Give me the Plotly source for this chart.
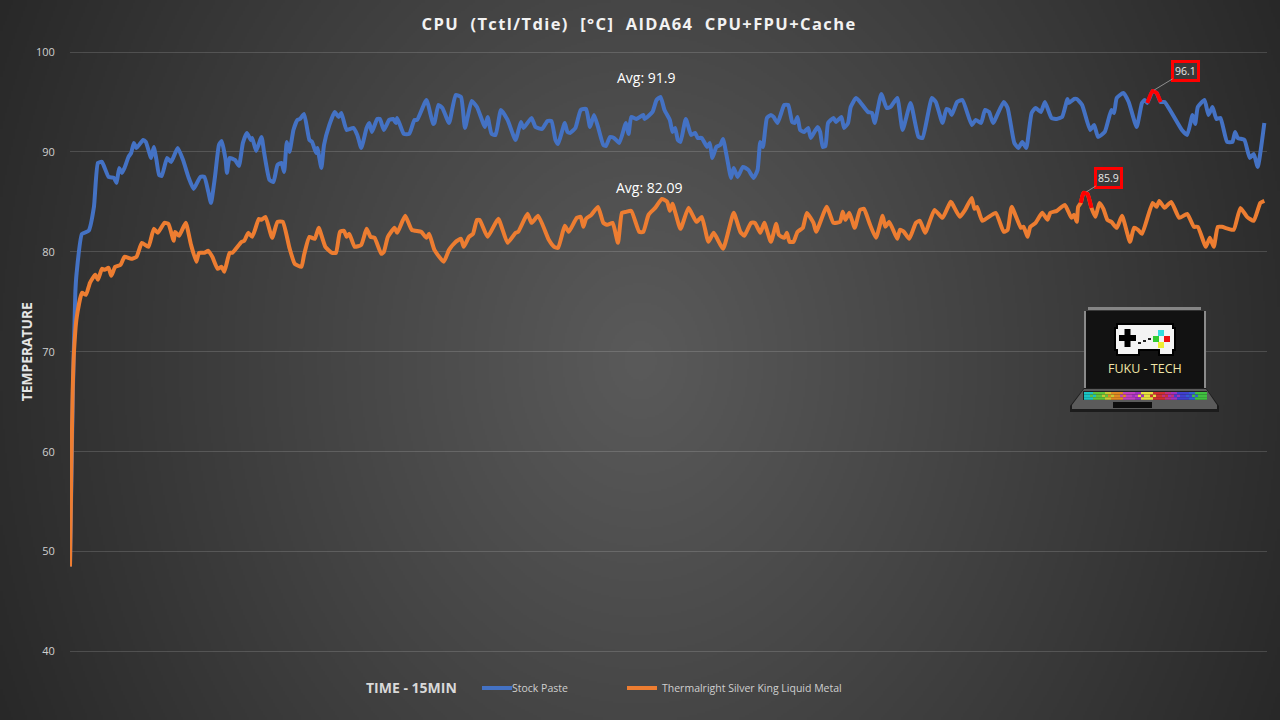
import base64, struct, zlib
import numpy as np
import plotly.graph_objects as go

# time in seconds (15 min run), temperature in deg C
stock_time = [0,2,4,5,9,14,18,21,24,29,33,35,37,39,41,44,46,48,50,55,57,61,63,65,67,69,73,76,81,85,89,93,98,101,104,106,109,112,114,117,118,120,124,127,130,133,136,137,140,144,146,150,153,156,159,161,163,165,168,171,173,176,180,182,185,186,189,191,195,199,202,204,208,213,216,219,223,225,227,231,233,236,240,243,245,246,251,255,259,261,268,273,274,277,280,285,290,
294,297,302,306,312,314,317,320,324,329,335,339,341,347,350,355,359,362,365,367,372,374,376,380,384,388,391,394,397,401,403,406,409,413,418,420,422,426,431,432,438,441,444,447,451,453,455,457,459,463,467,470,472,475,479,481,483,486,489,491,494,497,499,502,506,510,514,517,519,521,524,527,529,532,535,537,540,543,545,547,549,552,555,557,562,564,566,568,570,574,576,580,582,585,587,591,594,
600,603,605,610,614,617,622,626,632,638,641,648,651,656,659,661,663,667,671,678,681,685,688,691,694,702,705,710,713,716,719,723,726,730,733,738,742,746,750,751,755,757,761,767,770,773,778,783,785,787,792,796,802,806,808,810,814,817,820,823,836,840,844,846,848,853,856,859,862,865,870,874,876,878,883,887,890,893,898]
stock_temp = [48.5,65,75.9,77.9,81.8,82.1,84.5,88.9,89.0,87.5,87.4,86.9,88.4,87.9,88.4,89.5,89.9,90.9,90.4,91.2,91.0,89.4,90.5,89.2,87.7,87.6,89.4,89.0,90.4,89.2,87.5,86.3,87.5,87.5,86.0,84.9,87.5,90.7,91.1,89.2,87.9,89.4,89.2,88.6,90.9,91.9,91.2,91.4,90.1,91.5,89.9,87.2,87.0,88.7,88.9,88.0,91.0,90.0,92.2,93.2,93.3,93.8,91.2,91.0,89.9,90.4,88.4,90.7,92.7,94.0,93.5,93.9,92.2,92.4,91.7,90.4,92.4,92.9,92.0,93.3,93.3,92.2,93.2,93.3,92.9,93.4,91.8,91.8,93.2,93.2,95.2,92.8,92.9,94.7,94.4,92.9,95.7,
95.5,92.4,95.1,94.5,92.5,93.5,91.8,91.7,94.2,93.2,91.2,93.0,92.4,93.4,92.5,92.3,93.1,93.1,91.2,90.8,92.9,92.0,91.9,92.4,94.2,94.3,92.5,93.7,92.5,90.7,90.6,91.5,91.4,90.9,92.9,91.8,93.5,93.3,93.7,93.3,94.0,95.2,95.5,94.2,93.2,92.0,92.4,91.2,91.0,93.3,91.7,91.9,91.4,91.4,90.5,90.9,89.4,90.5,90.7,91.3,89.4,87.4,88.4,87.5,88.5,88.2,87.4,88.2,91.0,90.5,93.4,93.7,93.5,92.9,94.0,94.7,94.7,93.0,92.9,93.5,92.2,92.0,92.4,91.4,92.5,92.0,90.5,90.6,92.9,93.4,93.0,93.5,92.4,92.9,94.5,95.4,95.0,
94.0,93.9,92.9,95.8,94.4,94.5,95.4,92.2,94.9,91.5,91.4,95.4,95.0,92.9,94.3,94.2,93.7,95.0,95.2,92.7,93.2,92.9,94.2,94.0,92.9,95.0,94.4,90.9,90.4,91.0,90.4,93.9,94.4,94.0,95.0,93.4,93.3,93.5,95.3,94.9,95.3,95.3,94.7,92.2,92.7,91.5,92.0,94.2,93.9,95.4,95.9,95.0,92.5,94.9,95.2,94.9,96.1,95.9,95.0,95.0,92.2,91.7,93.7,92.8,94.5,95.2,93.7,94.5,93.3,93.4,91.0,91.0,92.0,91.4,91.2,89.4,89.8,88.5,92.9]

lm_time = [0,1,2,3,5,9,12,15,19,21,24,26,29,31,34,38,41,46,50,54,59,63,66,71,74,78,79,82,87,91,95,97,101,104,107,111,114,116,120,122,129,131,134,137,142,144,147,152,156,160,165,169,174,176,180,184,187,192,197,200,203,206,208,210,214,219,223,226,229,234,236,239,244,246,252,257,264,268,270,274,281,285,290,
294,296,300,303,306,308,314,322,329,335,337,344,347,352,360,364,367,372,375,381,384,386,388,392,397,401,404,408,412,415,418,422,428,431,435,440,445,449,451,453,459,465,471,475,480,484,491,499,504,507,512,515,519,522,527,531,533,537,539,541,544,547,551,554,559,561,569,574,579,581,583,586,590,594,
597,601,606,611,613,616,622,624,627,631,636,639,643,650,656,662,663,669,673,678,680,682,686,696,702,705,708,715,717,720,722,726,731,735,737,742,748,753,755,757,758,760,762,765,768,771,774,777,780,783,787,791,797,800,803,806,814,817,819,823,828,834,840,845,848,854,857,860,863,866,871,875,880,885,890,895,898]
lm_temp = [48.5,58,66,70,73.4,75.9,75.7,76.9,77.7,77.2,78.3,78.2,78.4,77.6,78.5,78.7,79.5,79.3,79.5,80.9,80.5,82.3,81.9,82.9,82.8,81.1,82.0,81.6,82.9,80.7,79.0,79.9,79.9,80.1,79.5,78.3,78.5,78.0,79.9,79.9,81.0,81.1,81.9,81.5,83.3,83.2,83.5,81.4,83.0,83.0,80.4,78.8,78.5,79.7,81.5,81.3,82.4,80.5,79.9,79.9,82.0,82.1,81.5,81.8,80.5,80.7,82.3,81.5,81.4,79.8,80.0,81.5,82.4,81.9,83.6,82.2,82.0,81.4,81.8,80.2,79.0,80.2,81.0,
81.3,80.5,81.5,81.8,83.2,83.2,81.5,83.3,80.9,81.9,82.0,83.8,82.9,83.6,81.2,80.5,80.4,82.6,82.0,83.4,83.5,82.5,83.3,83.7,84.5,82.9,82.7,82.9,80.9,83.9,84.0,84.1,82.0,82.0,83.7,84.4,85.3,85.0,84.1,84.8,82.3,84.4,83.0,83.5,81.0,81.9,80.3,83.9,82.0,81.6,82.9,82.9,81.9,82.9,81.0,82.8,81.7,81.4,81.9,81.0,81.0,82.0,82.4,83.9,82.9,82.0,84.5,82.9,83.0,84.0,83.2,83.9,82.4,84.2,
84.3,82.9,81.4,83.6,82.5,83.0,81.3,82.2,82.0,81.3,82.9,83.1,81.9,84.2,83.4,85.0,84.9,83.5,84.2,85.4,84.3,84.5,83.1,83.9,82.0,82.2,84.5,82.4,82.5,81.5,82.5,82.9,83.9,83.2,83.9,84.1,84.7,83.4,83.7,83.0,84.5,84.9,85.9,85.8,84.4,83.5,84.9,84.3,83.2,83.0,82.4,83.6,81.0,82.4,82.2,81.8,84.9,84.5,85.1,84.4,85.0,83.4,83.8,82.5,82.5,80.5,81.4,80.5,82.5,82.5,82.3,82.2,84.4,83.5,83.1,84.9,85.1]

stock_peak_time = [810,814,817,820]
stock_peak_temp = [94.9,96.1,95.9,95.0]
lm_peak_time = [760,762,765,768]
lm_peak_temp = [84.9,85.9,85.8,84.4]

y_ticks = [40,50,60,70,80,90,100]
series_names = ["Stock Paste","Thermalright Silver King Liquid Metal"]
W, H = 1280, 720
BLUE, ORANGE, RED = "#4472C4", "#ED7D31", "#FF0000"
FONT = "Open Sans"

# radial page background
def background_uri():
    yy, xx = np.mgrid[0:H//2, 0:W//2]
    t = np.sqrt(((xx*2-W/2+.5)/(W/2))**2 + (0.46*(yy*2-H/2+.5)/(H/2))**2)
    v = np.clip(0x5a - (0x5a-0x2d)*t**1.05, 0x27, 255).astype(np.uint8)
    raw = b"".join(b"\0" + np.repeat(r, 3).tobytes() for r in v)
    def chunk(k, d):
        return struct.pack(">I", len(d)) + k + d + struct.pack(">I", zlib.crc32(k+d))
    png = b"\x89PNG\r\n\x1a\n" + chunk(b"IHDR", struct.pack(">IIBBBBB", W//2, H//2, 8, 2, 0, 0, 0)) + chunk(b"IDAT", zlib.compress(raw)) + chunk(b"IEND", b"")
    return "data:image/png;base64," + base64.b64encode(png).decode()

shapes = []
def rect(x0, y0, x1, y1, c):
    shapes.append(dict(type="rect", xref="paper", yref="paper", x0=x0/W, x1=x1/W, y0=1-y0/H, y1=1-y1/H,
                       fillcolor=c, line=dict(width=0), layer="above"))
def poly(pts, c):
    p = "M" + " L".join(f"{x/W:.5f},{1-y/H:.5f}" for x, y in pts) + " Z"
    shapes.append(dict(type="path", xref="paper", yref="paper", path=p, fillcolor=c, line=dict(width=0), layer="above"))

# laptop badge
rect(1088, 307, 1201, 310, "#858585")
rect(1084, 311, 1206, 388, "#8a8a8a")
rect(1086, 311, 1204, 388, "#121212")
poly([(1084,388),(1206,388),(1219,406),(1219,412),(1070,412),(1070,406)], "#1c1c1c")
poly([(1084,389),(1206,389),(1217,405),(1217,409),(1072,409),(1072,405)], "#5b5b5b")
rect(1083, 391, 1207, 400, "#222222")
keys = ["#19c4c4","#19c4c4","#5fc43a","#5fc43a","#c8c832","#e08a22","#e08a22","#c040c0","#c040c0","#a030c0","#e8e040","#e8e040","#d03030","#d03030","#c03080","#a030c0","#4040d0","#4040d0","#3060d0","#40c040","#40c040"]
for col in range(41):
    for r in range(3):
        c = keys[col//2] if (col + r) % 2 == 0 else keys[min(col//2+1, 20)]
        rect(1084+col*3, 392+r*2.6, 1087+col*3, 394.6+r*2.6, c)
rect(1113, 402, 1152, 408, "#0e0e0e")
# game pad
rect(1116, 323, 1174, 347, "#000000")
rect(1114, 327, 1176, 351, "#000000")
rect(1116, 347, 1140, 356, "#000000")
rect(1158, 347, 1174, 356, "#000000")
rect(1118, 325, 1172, 345, "#f4f4f4")
rect(1116, 329, 1174, 349, "#f4f4f4")
rect(1118, 345, 1138, 354, "#f4f4f4")
rect(1160, 345, 1172, 354, "#f4f4f4")
rect(1119, 335, 1136, 341, "#000000")
rect(1124.5, 329, 1130.5, 347, "#000000")
rect(1158, 330, 1164, 336, "#33dddd")
rect(1153, 336, 1159, 342, "#33cc33")
rect(1164, 336, 1170, 342, "#ee1111")
rect(1158, 342, 1164, 348, "#eeee33")
rect(1138, 342, 1141, 344, "#222222")
rect(1143, 340, 1146, 342, "#222222")
rect(1148, 338, 1151, 340, "#222222")

line_w = 4
def series(x, y, color, name=None, legend=None, width=line_w):
    return go.Scatter(x=x, y=y, mode="lines", name=name, showlegend=legend is not None,
                      legend=legend or "legend",
                      line=dict(color=color, width=width, shape="spline", smoothing=0.45),
                      hoverinfo="skip", cliponaxis=False)

fig = go.Figure([
    series(stock_time, stock_temp, BLUE, series_names[0], "legend"),
    series(lm_time, lm_temp, ORANGE, series_names[1], "legend2"),
    series(stock_peak_time, stock_peak_temp, RED),
    series(lm_peak_time, lm_peak_temp, RED),
])

def note(text, x, y, size=13, color="#ffffff", bold=False, xref="paper", yref="paper", **kw):
    return dict(text=f"<b>{text}</b>" if bold else text, x=x, y=y, xref=xref, yref=yref, showarrow=False,
                xanchor="center", yanchor="middle",
                font=dict(family=FONT, size=size, color=color), **kw)

def callout(text, x, y, ax, ay):
    return dict(text=text, x=x, y=y, xref="x", yref="y", ax=ax, ay=ay, axref="pixel", ayref="pixel",
                showarrow=True, arrowhead=0, arrowwidth=0.8, arrowcolor="#a6a6a6", standoff=2,
                bordercolor=RED, borderwidth=3, borderpad=1, bgcolor="#3a3a3a",
                font=dict(family=FONT, size=10.5, color="#e8e8e8"))

annotations = [
    note("CPU\u00a0 (Tctl/Tdie)\u00a0 [°C]\u00a0 AIDA64\u00a0 CPU+FPU+Cache", 639/W, 1-23/H, size=16.5, bold=True, color="#f2f2f2"),
    note("Avg: 91.9", 433, 97.4, size=14, xref="x", yref="y"),
    note("Avg: 82.09", 435, 86.4, size=14, xref="x", yref="y"),
    note("TIME - 15MIN", 411/W, 1-687/H, size=14, bold=True, color="#d9d9d9"),
    note("FUKU - TECH", 1144.5/W, 1-368.5/H, size=12.5, color="#f0e6a8"),
    callout("96.1", 814, 96.1, 33, -20),
    callout("85.9", 763, 85.9, 24, -15),
]

def legend_at(px):
    return dict(orientation="h", x=px/W, y=1-688/H, xanchor="left", yanchor="middle",
                bgcolor="rgba(0,0,0,0)", itemclick=False,
                font=dict(family=FONT, size=10.5, color="#cfcfcf"))

fig.update_layout(
    width=W, height=H, autosize=False, margin=dict(l=0, r=0, t=0, b=0, autoexpand=False),
    paper_bgcolor="#3a3a3a", plot_bgcolor="rgba(0,0,0,0)",
    images=[dict(source=background_uri(), xref="paper", yref="paper", x=0, y=1, sizex=1, sizey=1,
                 sizing="stretch", layer="below", xanchor="left", yanchor="top")],
    shapes=shapes, annotations=annotations,
    xaxis=dict(domain=[70/W, 1267/W], range=[0, 900], showgrid=False, zeroline=False, showticklabels=False,
               showline=False, ticks=""),
    yaxis=dict(domain=[1-653.5/H, 1-50/H], range=[39.8, 100.2], tickvals=y_ticks, showgrid=True,
               gridcolor="rgba(255,255,255,0.15)", gridwidth=1, zeroline=False, showline=False,
               ticks="outside", ticklen=12, tickcolor="rgba(0,0,0,0)",
               tickfont=dict(family=FONT, size=11, color="#cfcfcf"),
               title=dict(text="<b>TEMPERATURE</b>", standoff=0, font=dict(family=FONT, size=13.8, color="#e6e6e6"))),
    legend=legend_at(477), legend2=legend_at(622),
    showlegend=True,
)
fig.write_html("out.html", config=dict(displayModeBar=False), post_script="""
document.body.style.margin='0';
document.querySelectorAll('.annotation-text').forEach(function(t){
  if(t.textContent.indexOf('AIDA64')>=0){t.style.letterSpacing='1.4px';}
});
document.querySelectorAll('.legendtext').forEach(function(t){t.setAttribute('x','35');});
""")
